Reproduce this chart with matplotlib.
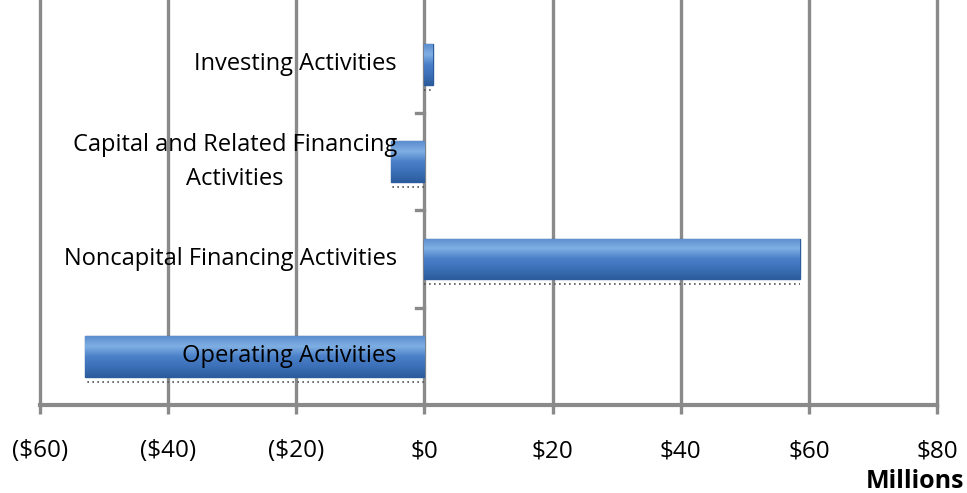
import numpy as np
import matplotlib.pyplot as plt
from matplotlib.colors import LinearSegmentedColormap

# Flujos de efectivo por actividad (millones)
categories = ["Operating Activities", "Noncapital Financing Activities",
              "Capital and Related Financing\nActivities", "Investing Activities"]
values = [-53.0, 58.6, -5.2, 1.4]
xticks = [-60, -40, -20, 0, 20, 40, 60, 80]
xtick_labels = ["($60)", "($40)", "($20)", "$0", "$20", "$40", "$60", "$80"]

plt.rcParams['font.family'] = ['Open Sans', 'DejaVu Sans']
grey = '#8a8a8a'

fig = plt.figure(figsize=(9.67, 4.93), dpi=100)
ax = fig.add_axes([40/967, 88/493, 897/967, 405/493])

ypos = np.arange(len(categories))
h = 0.42

# grilla vertical
for x in xticks:
    ax.axvline(x, color=grey, lw=2.4, zorder=1, clip_on=False)

# sombra punteada bajo las barras
for y, v in zip(ypos, values):
    ax.plot([0, v], [y - h/2 - 0.05, y - h/2 - 0.05], ls=(0, (1, 2)),
            color='#555555', lw=1.2, zorder=2)

bars = ax.barh(ypos, values, height=h, color='#3f74bd', edgecolor='#2b5c9e',
               lw=1, zorder=3)

# degradado dentro de cada barra
cmap = LinearSegmentedColormap.from_list(
    'azul', ['#2c5c9c', '#3b70b8', '#4a80c8', '#7eaee2', '#5d8fd0'])
grad = np.linspace(0, 1, 100).reshape(-1, 1)
for b in bars:
    x0, y0 = b.get_x(), b.get_y()
    w, hh = b.get_width(), b.get_height()
    im = ax.imshow(grad, cmap=cmap, aspect='auto', origin='lower',
                   extent=[x0, x0 + w, y0, y0 + hh], zorder=3.5)
    im.set_clip_path(b)

for y, lab in zip(ypos, categories):
    ax.text(-4.3, y, lab, ha='right', va='center', ma='center',
            fontsize=17, color='black', zorder=5, linespacing=1.55)

ax.set_xlim(-60, 80)
ax.set_ylim(-0.5, 3.66)
ax.set_xticks(xticks)
ax.set_xticklabels(xtick_labels, fontsize=17.5)
ax.tick_params(axis='x', length=6.5, width=2.4, color=grey, pad=18)
ax.set_yticks([])

# eje cero con marcas de categoría
for b in [0.5, 1.5, 2.5]:
    ax.plot([-1.3, 0], [b, b], color=grey, lw=2.4, zorder=1)

for s in ['top', 'right', 'left']:
    ax.spines[s].set_visible(False)
ax.spines['bottom'].set_color(grey)
ax.spines['bottom'].set_linewidth(3)

fig.text(964/967, (493 - 481)/493, "Millions", ha='right', va='center',
         fontsize=18, fontweight='bold')

fig.savefig("out.png", dpi=100)
